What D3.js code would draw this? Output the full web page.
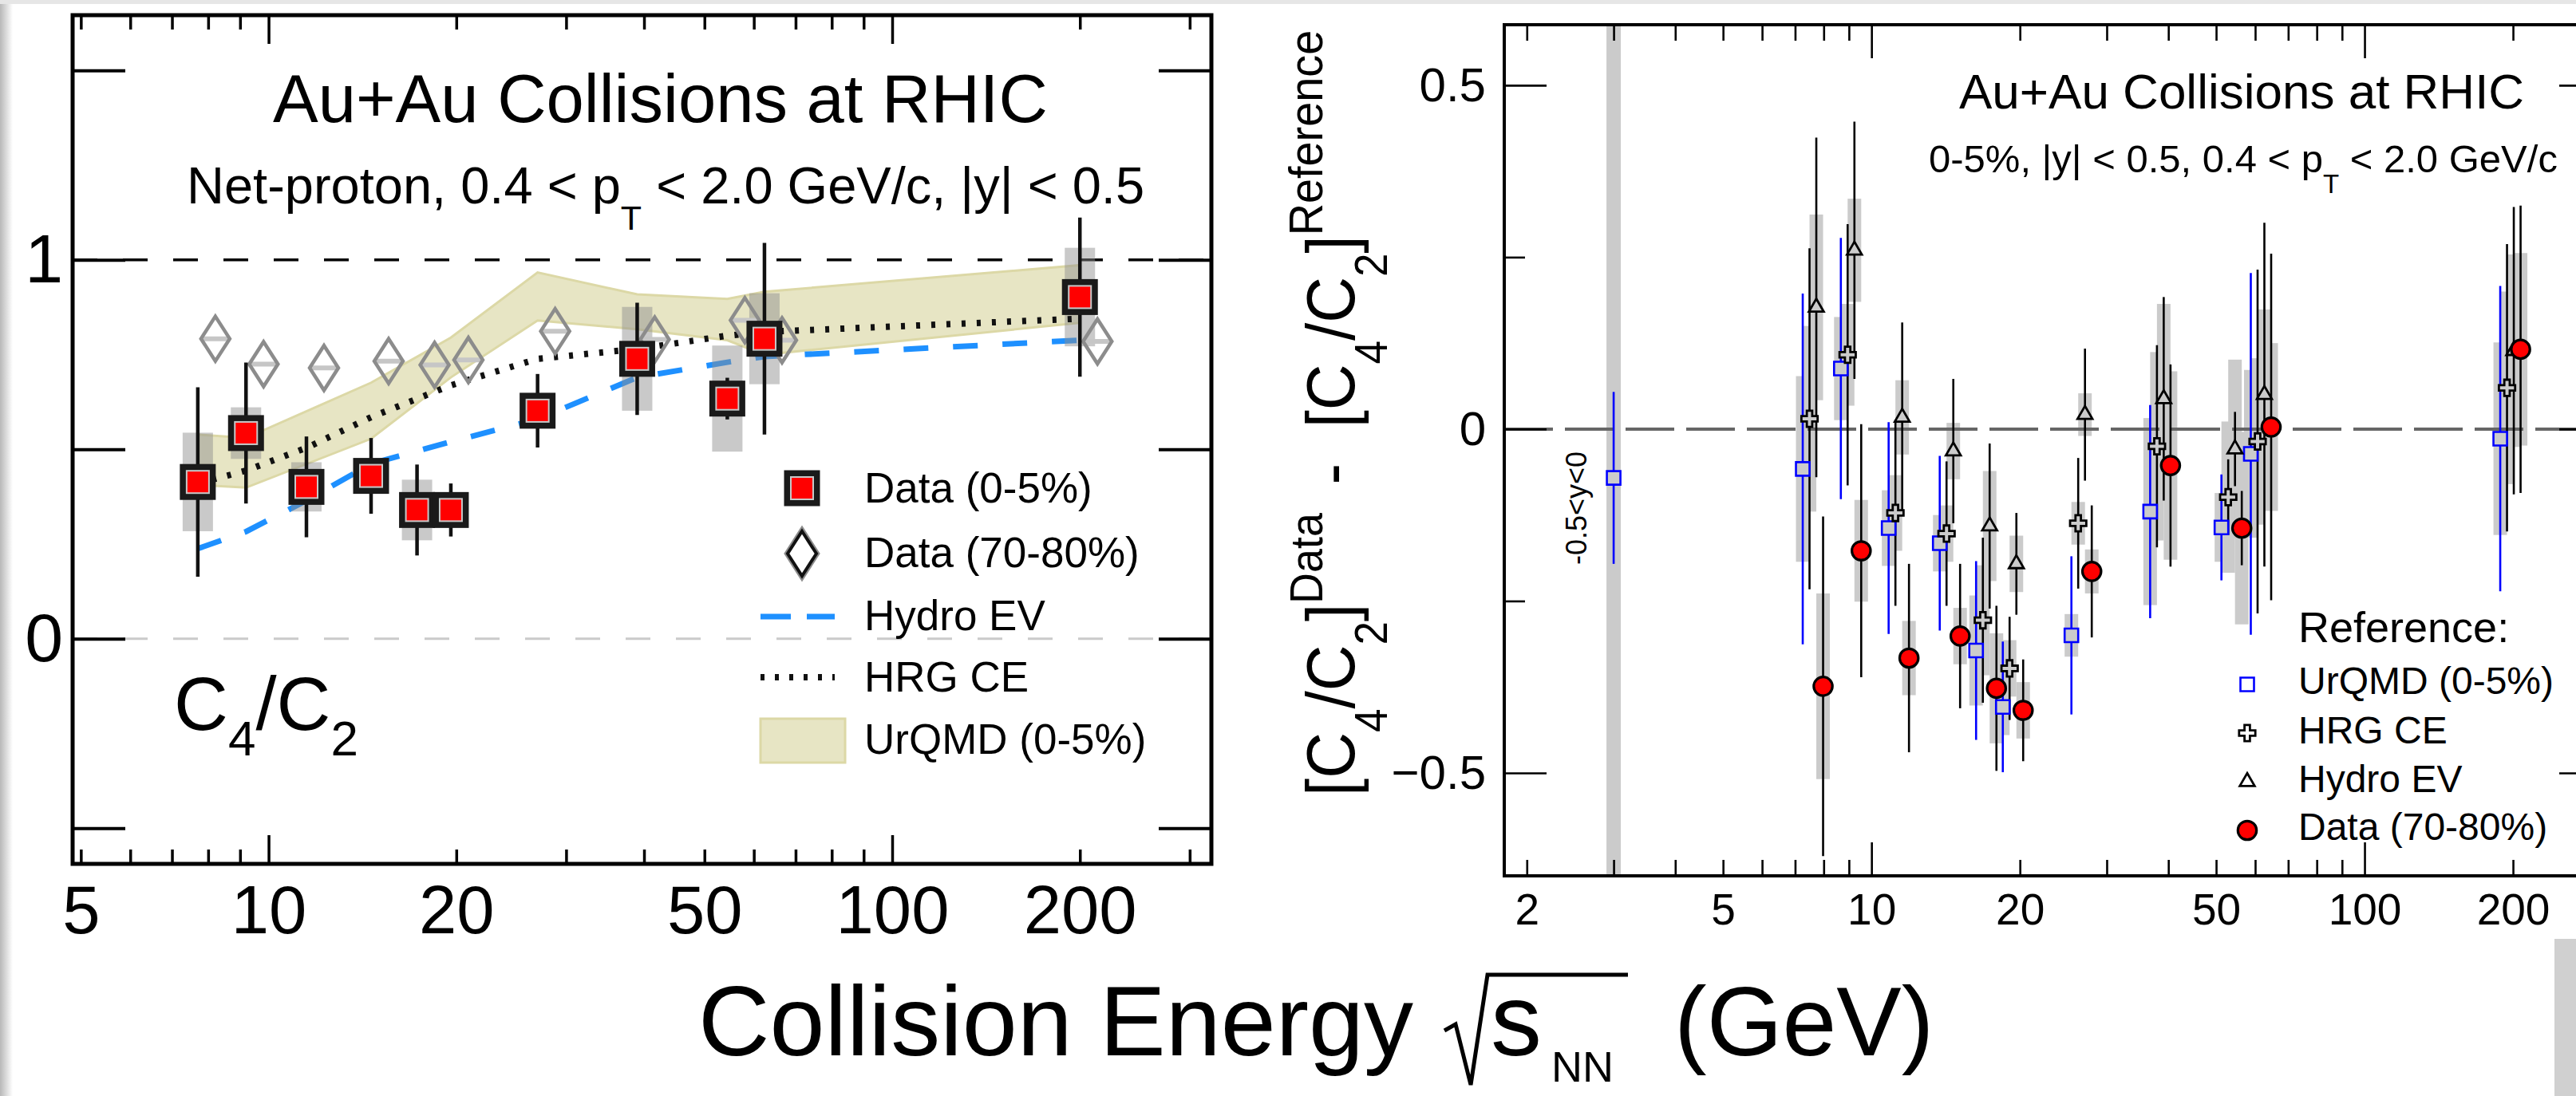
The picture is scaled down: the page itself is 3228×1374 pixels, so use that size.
<!DOCTYPE html>
<html><head><meta charset="utf-8">
<script src="https://cdn.jsdelivr.net/npm/d3@7"></script>
<style>
body{margin:0;background:#fff;}
svg{display:block;}
</style></head><body>
<svg id="chart" width="3228" height="1374"></svg>
<script>
// ================= DATA =================
// Left panel: C4/C2 of net-proton vs collision energy
const energies = [7.7, 9.2, 11.5, 14.6, 17.3, 19.6, 27, 39, 54.4, 62.4, 200];
const c4c2Central = [0.414, 0.543, 0.401, 0.430, 0.340, 0.340, 0.602, 0.739, 0.634, 0.792, 0.902];
const c4c2CentralStat = [0.250, 0.186, 0.133, 0.100, 0.120, 0.070, 0.097, 0.148, 0.055, 0.253, 0.210];
const c4c2CentralSys = [0.130, 0.068, 0.065, 0.041, 0.080, 0.041, 0.031, 0.137, 0.140, 0.120, 0.130];
const c4c2Peripheral = [0.792, 0.725, 0.715, 0.733, 0.723, 0.736, 0.812, 0.790, 0.841, 0.788, 0.785];

const urqmdBandEnergy = [7.7, 9.2, 14.6, 19.6, 27, 39, 54.4, 62.4, 200];
const urqmdBandUpper = [0.539, 0.530, 0.676, 0.795, 0.967, 0.909, 0.897, 0.916, 0.986];
const urqmdBandLower = [0.406, 0.399, 0.528, 0.690, 0.840, 0.817, 0.788, 0.750, 0.834];

const modelEnergy = [7.7, 9.2, 11.5, 14.6, 19.6, 27, 39, 54.4, 62.4, 200];
const hydroEV = [0.238, 0.283, 0.365, 0.462, 0.520, 0.580, 0.690, 0.730, 0.745, 0.788];
const hrgCE = [0.410, 0.444, 0.504, 0.585, 0.669, 0.739, 0.765, 0.800, 0.810, 0.845];

// Right panel: [C4/C2]^Data - [C4/C2]^Reference (same energies)
const diffUrqmd = [-0.058, 0.088, -0.144, -0.166, -0.322, -0.404, -0.300, -0.120, -0.143, -0.036, -0.014];
const diffUrqmdStat = [0.255, 0.190, 0.154, 0.127, 0.130, 0.095, 0.115, 0.155, 0.077, 0.263, 0.222];
const diffUrqmdSys = [0.135, 0.075, 0.055, 0.041, 0.080, 0.041, 0.031, 0.136, 0.050, 0.122, 0.140];

const diffHrg = [0.015, 0.108, -0.122, -0.152, -0.278, -0.348, -0.137, -0.025, -0.099, -0.018, 0.060];
const diffHrgStat = [0.248, 0.190, 0.135, 0.105, 0.120, 0.075, 0.095, 0.147, 0.055, 0.250, 0.209];
const diffHrgSys = [0.135, 0.074, 0.055, 0.041, 0.080, 0.041, 0.031, 0.137, 0.110, 0.121, 0.140];

const diffHydro = [0.177, 0.260, 0.017, -0.032, -0.141, -0.196, 0.021, 0.044, -0.029, 0.050, 0.114];
const diffHydroStat = [0.247, 0.187, 0.138, 0.105, 0.120, 0.074, 0.096, 0.148, 0.054, 0.250, 0.209];
const diffHydroSys = [0.135, 0.075, 0.054, 0.041, 0.080, 0.041, 0.031, 0.138, 0.130, 0.124, 0.140];

const diffPeripheral = [-0.374, -0.177, -0.333, -0.301, -0.377, -0.409, -0.207, -0.053, -0.144, 0.003, 0.116];
const diffPeripheralStat = [0.247, 0.184, 0.137, 0.105, 0.120, 0.074, 0.096, 0.147, 0.054, 0.252, 0.209];
const diffPeripheralSys = [0.135, 0.074, 0.054, 0.041, 0.080, 0.041, 0.032, 0.137, 0.140, 0.122, 0.140];

// 3 GeV fixed-target UrQMD reference point (-0.5<y<0)
const fxtEnergy = [3.0];
const fxtUrqmdDiff = [-0.071];
const fxtUrqmdStat = [0.125];

// Tick labels
const leftXTickLabels = [5, 10, 20, 50, 100, 200];
const leftYTickValues = [-0.5, 0, 0.5, 1, 1.5];
const leftYTickLabels = [0, 1];
const rightXTickLabels = [2, 5, 10, 20, 50, 100, 200];
const rightYMajor = [-0.5, 0, 0.5];
const rightYMinor = [-0.25, 0.25];

// ================= DRAWING =================
const FONT = "'Liberation Sans', Arial, Helvetica, sans-serif";
const svg = d3.select('#chart').attr('font-family', FONT);
const defs = svg.append('defs');

svg.append('rect').attr('width', 3228).attr('height', 1374).attr('fill', '#fff');
const grad = defs.append('linearGradient').attr('id', 'edgeL').attr('x1', 0).attr('x2', 1).attr('y1', 0).attr('y2', 0);
grad.append('stop').attr('offset', 0).attr('stop-color', '#b8b8b8');
grad.append('stop').attr('offset', 1).attr('stop-color', '#ffffff');
svg.append('rect').attr('x', 0).attr('y', 0).attr('width', 16).attr('height', 1374).attr('fill', 'url(#edgeL)');
svg.append('rect').attr('x', 0).attr('y', 0).attr('width', 3228).attr('height', 5).attr('fill', '#e6e6e6');
svg.append('rect').attr('x', 3201).attr('y', 1177).attr('width', 27).attr('height', 197).attr('fill', '#d0d0d0');

const isDecade = v => Math.abs(Math.log10(v) - Math.round(Math.log10(v))) < 1e-9;

function tickAxis(g, axisFn, scale, pos, values, size, sw, horizontal) {
  const a = g.append('g')
    .attr('transform', horizontal ? `translate(0,${pos})` : `translate(${pos},0)`)
    .call(axisFn(scale).tickValues(values).tickSize(-size).tickSizeOuter(0).tickFormat(''));
  a.select('.domain').remove();
  a.selectAll('line').attr('stroke', '#000').attr('stroke-width', sw);
  return a;
}
function labelAxis(g, axisFn, scale, pos, values, fmt, fs, pad, horizontal) {
  const a = g.append('g')
    .attr('transform', horizontal ? `translate(0,${pos})` : `translate(${pos},0)`)
    .call(axisFn(scale).tickValues(values).tickSize(0).tickPadding(pad).tickFormat(fmt));
  a.select('.domain').remove();
  a.selectAll('line').remove();
  a.attr('font-size', fs).attr('font-family', FONT);
  a.selectAll('text').attr('fill', '#000');
  return a;
}

// ---------------- LEFT PANEL ----------------
const L = {x0: 91, x1: 1518, y0: 19, y1: 1083};
const xL = d3.scaleLog().domain([4.85, 325]).range([L.x0, L.x1]);
const yL = d3.scaleLinear().domain([-0.594, 1.646]).range([L.y1, L.y0]);
defs.append('clipPath').attr('id', 'clipL').append('rect')
  .attr('x', L.x0).attr('y', L.y0).attr('width', L.x1 - L.x0).attr('height', L.y1 - L.y0);
const gL = svg.append('g');
const pL = gL.append('g').attr('clip-path', 'url(#clipL)');

// reference lines
pL.append('line').attr('x1', L.x0).attr('x2', L.x1).attr('y1', yL(1)).attr('y2', yL(1))
  .attr('stroke', '#000').attr('stroke-width', 3.5).attr('stroke-dasharray', '31,32');
pL.append('line').attr('x1', L.x0).attr('x2', L.x1).attr('y1', yL(0)).attr('y2', yL(0))
  .attr('stroke', '#cacaca').attr('stroke-width', 3).attr('stroke-dasharray', '31,32');

// UrQMD band
const bandData = urqmdBandEnergy.map((e, i) => ({e, hi: urqmdBandUpper[i], lo: urqmdBandLower[i]}));
pL.append('path').datum(bandData)
  .attr('d', d3.area().x(d => xL(d.e)).y0(d => yL(d.lo)).y1(d => yL(d.hi)))
  .attr('fill', '#e7e5c4').attr('stroke', '#dcd8a6').attr('stroke-width', 3);

// Hydro EV
const modelPts = (arr) => modelEnergy.map((e, i) => ({e, v: arr[i]}));
pL.append('path').datum(modelPts(hydroEV))
  .attr('d', d3.line().x(d => xL(d.e)).y(d => yL(d.v)))
  .attr('fill', 'none').attr('stroke', '#1e90ff').attr('stroke-width', 7).attr('stroke-dasharray', '31,31');

// systematic boxes (data 0-5%)
const central = energies.map((e, i) => ({e, v: c4c2Central[i], st: c4c2CentralStat[i], sy: c4c2CentralSys[i], p: c4c2Peripheral[i]}));
pL.selectAll('.sysL').data(central).enter().append('rect')
  .attr('x', d => xL(d.e) - 19).attr('width', 38)
  .attr('y', d => yL(d.v + d.sy)).attr('height', d => yL(d.v - d.sy) - yL(d.v + d.sy))
  .attr('fill', '#8e8e8e').attr('opacity', 0.48);

// HRG CE dotted
pL.append('path').datum(modelPts(hrgCE))
  .attr('d', d3.line().x(d => xL(d.e)).y(d => yL(d.v)))
  .attr('fill', 'none').attr('stroke', '#111').attr('stroke-width', 8).attr('stroke-dasharray', '5,14');

// Data 70-80% diamonds (shifted right)
const diamondPath = 'M0,-28L18,0L0,28L-18,0Z';
const dg = pL.selectAll('.dia').data(central).enter().append('g')
  .attr('transform', d => `translate(${xL(d.e) + 22},${yL(d.p)})`);
dg.append('line').attr('x1', -17).attr('x2', 17).attr('y1', 0).attr('y2', 0)
  .attr('stroke', '#c6c6c6').attr('stroke-width', 6);
dg.append('path').attr('d', diamondPath).attr('fill', 'none').attr('stroke', '#8c8c8c').attr('stroke-width', 4.5);

// stat errors
pL.selectAll('.errL').data(central).enter().append('line')
  .attr('x1', d => xL(d.e)).attr('x2', d => xL(d.e))
  .attr('y1', d => yL(d.v + d.st)).attr('y2', d => yL(d.v - d.st))
  .attr('stroke', '#111').attr('stroke-width', 4.5);

// red squares
function redSquare(g) {
  g.append('rect').attr('x', -18.75).attr('y', -18.75).attr('width', 37.5).attr('height', 37.5)
    .attr('fill', '#c8c8c8').attr('stroke', '#1a1a1a').attr('stroke-width', 7.5);
  g.append('rect').attr('x', -13).attr('y', -13).attr('width', 26).attr('height', 26).attr('fill', '#ff0000');
}
pL.selectAll('.sq').data(central).enter().append('g')
  .attr('transform', d => `translate(${xL(d.e)},${yL(d.v)})`).each(function () { redSquare(d3.select(this)); });

// frame + ticks
const allTicksL = xL.ticks();
tickAxis(gL, d3.axisBottom, xL, L.y1, allTicksL.filter(v => !isDecade(v)), 18, 3.5, true);
tickAxis(gL, d3.axisBottom, xL, L.y1, allTicksL.filter(isDecade), 36, 3.5, true);
tickAxis(gL, d3.axisTop, xL, L.y0, allTicksL.filter(v => !isDecade(v)), 18, 3.5, true);
tickAxis(gL, d3.axisTop, xL, L.y0, allTicksL.filter(isDecade), 36, 3.5, true);
tickAxis(gL, d3.axisLeft, yL, L.x0, leftYTickValues, 66, 4, false);
tickAxis(gL, d3.axisRight, yL, L.x1, leftYTickValues, 66, 4, false);
gL.append('rect').attr('x', L.x0).attr('y', L.y0).attr('width', L.x1 - L.x0).attr('height', L.y1 - L.y0)
  .attr('fill', 'none').attr('stroke', '#000').attr('stroke-width', 5);
labelAxis(gL, d3.axisBottom, xL, L.y1, leftXTickLabels, d3.format('d'), 85, 27, true);
labelAxis(gL, d3.axisLeft, yL, L.x0, leftYTickValues,
  v => leftYTickLabels.includes(v) ? String(v) : '', 86, 12, false);

// texts
gL.append('text').attr('x', 342).attr('y', 153).attr('font-size', 85).text('Au+Au Collisions at RHIC');
const st = gL.append('text').attr('x', 234).attr('y', 255).attr('font-size', 65);
st.append('tspan').text('Net-proton, 0.4 < p');
st.append('tspan').attr('font-size', 43).attr('dy', 33).text('T');
st.append('tspan').attr('dy', -33).text(' < 2.0 GeV/c, |y| < 0.5');
const cl = gL.append('text').attr('x', 218).attr('y', 915).attr('font-size', 94);
cl.append('tspan').text('C');
cl.append('tspan').attr('font-size', 62).attr('dy', 32).text('4');
cl.append('tspan').attr('dy', -32).text('/C');
cl.append('tspan').attr('font-size', 62).attr('dy', 32).text('2');

// left legend
const lgX = 1005, lgT = 1083;
const lg1 = gL.append('g').attr('transform', `translate(${lgX},612)`);
redSquare(lg1);
gL.append('path').attr('d', diamondPath).attr('transform', `translate(${lgX},694)`)
  .attr('fill', 'none').attr('stroke', '#8c8c8c').attr('stroke-width', 8);
gL.append('path').attr('d', diamondPath).attr('transform', `translate(${lgX},694)`)
  .attr('fill', '#fff').attr('stroke', '#111').attr('stroke-width', 4);
gL.append('line').attr('x1', 953).attr('x2', 1046).attr('y1', 773).attr('y2', 773)
  .attr('stroke', '#1e90ff').attr('stroke-width', 7).attr('stroke-dasharray', '38,20');
gL.append('line').attr('x1', 953).attr('x2', 1046).attr('y1', 849).attr('y2', 849)
  .attr('stroke', '#111').attr('stroke-width', 8).attr('stroke-dasharray', '5,13');
gL.append('rect').attr('x', 953).attr('y', 901).attr('width', 106).attr('height', 55)
  .attr('fill', '#e7e5c4').attr('stroke', '#dcd8a6').attr('stroke-width', 3);
[['Data (0-5%)', 630], ['Data (70-80%)', 711], ['Hydro EV', 790], ['HRG CE', 867], ['UrQMD (0-5%)', 945]]
  .forEach(([t, y]) => gL.append('text').attr('x', lgT).attr('y', y).attr('font-size', 53).text(t));

// ---------------- RIGHT PANEL ----------------
const R = {x0: 1885, x1: 3260, y0: 31, y1: 1098};
const xR = d3.scaleLog().domain([1.8, 302.4]).range([R.x0, R.x1]);
const yR = d3.scaleLinear().domain([-0.6497, 0.588]).range([R.y1, R.y0]);
defs.append('clipPath').attr('id', 'clipR').append('rect')
  .attr('x', R.x0).attr('y', R.y0).attr('width', R.x1 - R.x0).attr('height', R.y1 - R.y0);
const gR = svg.append('g');
const pR = gR.append('g').attr('clip-path', 'url(#clipR)');

// 3 GeV band
pR.selectAll('.fxtband').data(fxtEnergy).enter().append('rect')
  .attr('x', d => xR(d) - 9).attr('width', 18).attr('y', R.y0).attr('height', R.y1 - R.y0).attr('fill', '#cbcbcb');

const models = [
  {vals: diffUrqmd, stat: diffUrqmdStat, sys: diffUrqmdSys, off: -16, type: 'square'},
  {vals: diffHrg, stat: diffHrgStat, sys: diffHrgSys, off: -7.5, type: 'cross'},
  {vals: diffHydro, stat: diffHydroStat, sys: diffHydroSys, off: 1, type: 'triangle'},
  {vals: diffPeripheral, stat: diffPeripheralStat, sys: diffPeripheralSys, off: 9.5, type: 'circle'}
];
const pts = [];
models.forEach(m => energies.forEach((e, i) => pts.push({e, v: m.vals[i], st: m.stat[i], sy: m.sys[i], off: m.off, type: m.type})));
fxtEnergy.forEach((e, i) => pts.push({e, v: fxtUrqmdDiff[i], st: fxtUrqmdStat[i], sy: 0, off: 0, type: 'square'}));

// sys boxes
pR.selectAll('.sysR').data(pts.filter(d => d.sy > 0)).enter().append('rect')
  .attr('x', d => xR(d.e) + d.off - 8.5).attr('width', 17)
  .attr('y', d => yR(d.v + d.sy)).attr('height', d => yR(d.v - d.sy) - yR(d.v + d.sy))
  .attr('fill', '#cbcbcb');

// zero line
pR.append('line').attr('x1', R.x0).attr('x2', R.x1).attr('y1', yR(0)).attr('y2', yR(0))
  .attr('stroke', '#666').attr('stroke-width', 4).attr('stroke-dasharray', '61,15');

// stat error bars
pR.selectAll('.errR').data(pts).enter().append('line')
  .attr('x1', d => xR(d.e) + d.off).attr('x2', d => xR(d.e) + d.off)
  .attr('y1', d => yR(d.v + d.st)).attr('y2', d => yR(d.v - d.st))
  .attr('stroke', d => d.type === 'square' ? '#0000ff' : '#000').attr('stroke-width', 2.6);

// markers
const symGen = {
  square: d3.symbol(d3.symbolSquare, 289),
  cross: d3.symbol(d3.symbolCross, 230),
  triangle: d3.symbol(d3.symbolTriangle, 150),
  circle: d3.symbol(d3.symbolCircle, 430)
};
function drawMarker(g, type, fillHollow) {
  const p = g.append('path').attr('d', symGen[type]());
  if (type === 'square') p.attr('fill', fillHollow).attr('stroke', '#0000ff').attr('stroke-width', 2.6);
  else if (type === 'circle') p.attr('fill', '#ff0000').attr('stroke', '#000').attr('stroke-width', 3.2);
  else p.attr('fill', fillHollow).attr('stroke', '#000').attr('stroke-width', 2.8);
}
pR.selectAll('.mk').data(pts).enter().append('g')
  .attr('transform', d => `translate(${xR(d.e) + d.off},${yR(d.v)})`)
  .each(function (d) { drawMarker(d3.select(this), d.type, '#cbcbcb'); });

// ticks + frame
const allTicksR = xR.ticks();
tickAxis(gR, d3.axisBottom, xR, R.y1, allTicksR.filter(v => !isDecade(v)), 20, 2.6, true);
tickAxis(gR, d3.axisBottom, xR, R.y1, allTicksR.filter(isDecade), 42, 2.6, true);
tickAxis(gR, d3.axisTop, xR, R.y0, allTicksR.filter(v => !isDecade(v)), 20, 2.6, true);
tickAxis(gR, d3.axisTop, xR, R.y0, allTicksR.filter(isDecade), 42, 2.6, true);
tickAxis(gR, d3.axisLeft, yR, R.x0, rightYMajor, 53, 2.6, false);
tickAxis(gR, d3.axisLeft, yR, R.x0, rightYMinor, 26, 2.6, false);
tickAxis(gR, d3.axisRight, yR, R.x1, rightYMajor, 53, 2.6, false);
tickAxis(gR, d3.axisRight, yR, R.x1, rightYMinor, 26, 2.6, false);
gR.append('rect').attr('x', R.x0).attr('y', R.y0).attr('width', R.x1 - R.x0).attr('height', R.y1 - R.y0)
  .attr('fill', 'none').attr('stroke', '#000').attr('stroke-width', 4);
labelAxis(gR, d3.axisBottom, xR, R.y1, rightXTickLabels, d3.format('d'), 55, 22, true);
labelAxis(gR, d3.axisLeft, yR, R.x0, rightYMajor, v => v === 0 ? '0' : d3.format('.1f')(v), 60, 23, false);

// texts
gR.append('text').attr('x', 2455).attr('y', 136).attr('font-size', 62).text('Au+Au Collisions at RHIC');
const st2 = gR.append('text').attr('x', 2417).attr('y', 216).attr('font-size', 49);
st2.append('tspan').text('0-5%, |y| < 0.5, 0.4 < p');
st2.append('tspan').attr('font-size', 33).attr('dy', 26).text('T');
st2.append('tspan').attr('dy', -26).text(' < 2.0 GeV/c');
gR.append('text').attr('transform', 'translate(1988,637) rotate(-90)').attr('text-anchor', 'middle')
  .attr('font-size', 36).text('-0.5<y<0');

// y-axis title (rotated)
const yt = gR.append('text').attr('transform', 'translate(1697,998) rotate(-90) scale(0.93,1)').attr('font-size', 86);
yt.append('tspan').text('[C');
yt.append('tspan').attr('font-size', 57).attr('dy', 41).text('4');
yt.append('tspan').attr('dy', -41).text('/C');
yt.append('tspan').attr('font-size', 57).attr('dy', 41).text('2');
yt.append('tspan').attr('dy', -41).text(']');
yt.append('tspan').attr('font-size', 58).attr('dy', -40).text('Data');
yt.append('tspan').attr('dy', 40).attr('dx', 38).text('-');
yt.append('tspan').attr('dx', 48).text('[C');
yt.append('tspan').attr('font-size', 57).attr('dy', 41).text('4');
yt.append('tspan').attr('dy', -41).text('/C');
yt.append('tspan').attr('font-size', 57).attr('dy', 41).text('2');
yt.append('tspan').attr('dy', -41).text(']');
yt.append('tspan').attr('font-size', 60).attr('dy', -40).text('Reference');

// right legend
gR.append('text').attr('x', 2880).attr('y', 805).attr('font-size', 54).text('Reference:');
const rl = [['square', 'UrQMD (0-5%)', 858, 870], ['cross', 'HRG CE', 919, 932], ['triangle', 'Hydro EV', 980, 993], ['circle', 'Data (70-80%)', 1041, 1053]];
rl.forEach(([type, label, ys, yt2]) => {
  const g = gR.append('g').attr('transform', `translate(2816,${ys})`);
  drawMarker(g, type, '#fff');
  gR.append('text').attr('x', 2880).attr('y', yt2).attr('font-size', 48).text(label);
});

// ---------------- common x-axis title ----------------
const xt = svg.append('g');
xt.append('text').attr('x', 875).attr('y', 1323).attr('font-size', 124).text('Collision Energy');
xt.append('path').attr('d', 'M1810,1292 L1824,1284 L1843,1360 L1864,1222 L2040,1222')
  .attr('fill', 'none').attr('stroke', '#000').attr('stroke-width', 5);
xt.append('text').attr('x', 1868).attr('y', 1323).attr('font-size', 128).text('s');
xt.append('text').attr('x', 1944).attr('y', 1356).attr('font-size', 54).text('NN');
xt.append('text').attr('x', 2098).attr('y', 1323).attr('font-size', 122).text('(GeV)');
</script>
</body></html>
